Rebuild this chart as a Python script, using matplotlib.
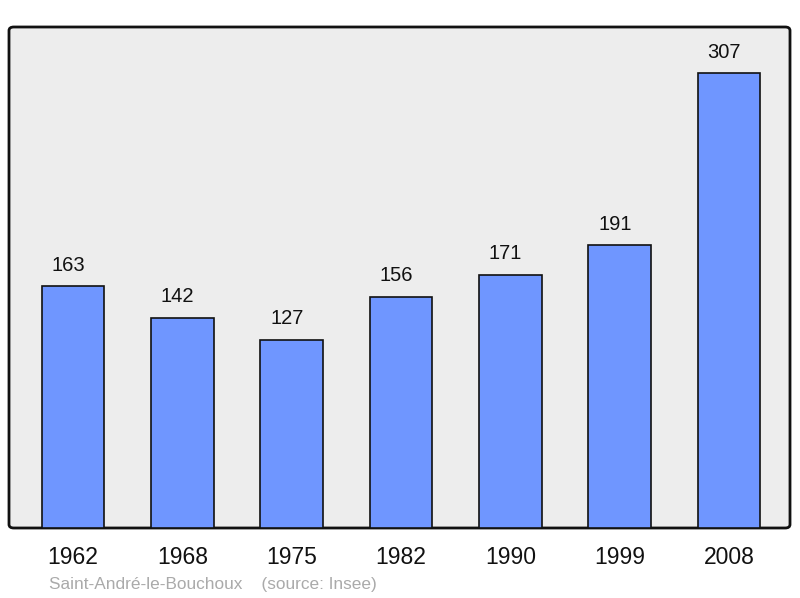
import matplotlib
matplotlib.use("Agg")
import matplotlib.pyplot as plt
from matplotlib.patches import FancyBboxPatch

years = ["1962", "1968", "1975", "1982", "1990", "1999", "2008"]
population = [163, 142, 127, 156, 171, 191, 307]

plt.rcParams['font.family'] = ['Liberation Sans', 'DejaVu Sans']

fig = plt.figure(figsize=(8, 5.98), dpi=100)
L, R, B, T = 9/800, 790/800, (598-528)/598, (598-27)/598
ax = fig.add_axes([L, B, R-L, T-B])
ax.set_facecolor('none')
ax.set_zorder(2)

frame = FancyBboxPatch((L, B), R-L, T-B, boxstyle="round,pad=0,rounding_size=0.006",
                       transform=fig.transFigure, facecolor='#ededed', edgecolor='#111111',
                       linewidth=2, zorder=-1)
fig.patches.append(frame)

x = list(range(len(years)))
ax.bar(x, population, width=0.575, color='#6f96ff', edgecolor='#111111', linewidth=1.2, zorder=2)
for xi, v in zip(x, population):
    ax.annotate(str(v), (xi, v), xytext=(-3.5, 15), textcoords='offset points',
                ha='center', va='center', fontsize=14.5, color='#111111')

ax.set_xlim(-0.585, 6.558)
ax.set_ylim(0, 338)
for s in ax.spines.values():
    s.set_visible(False)
ax.set_yticks([])
ax.set_xticks(x)
ax.set_xticklabels(years, fontsize=16.5, color='#111111')
ax.tick_params(axis='x', length=0, pad=13)

fig.text(49/800, 1-584/598, "Saint-André-le-Bouchoux    (source: Insee)", fontsize=12.4,
         color='#aaaaaa', ha='left', va='center')

fig.savefig('out.png', dpi=100)
